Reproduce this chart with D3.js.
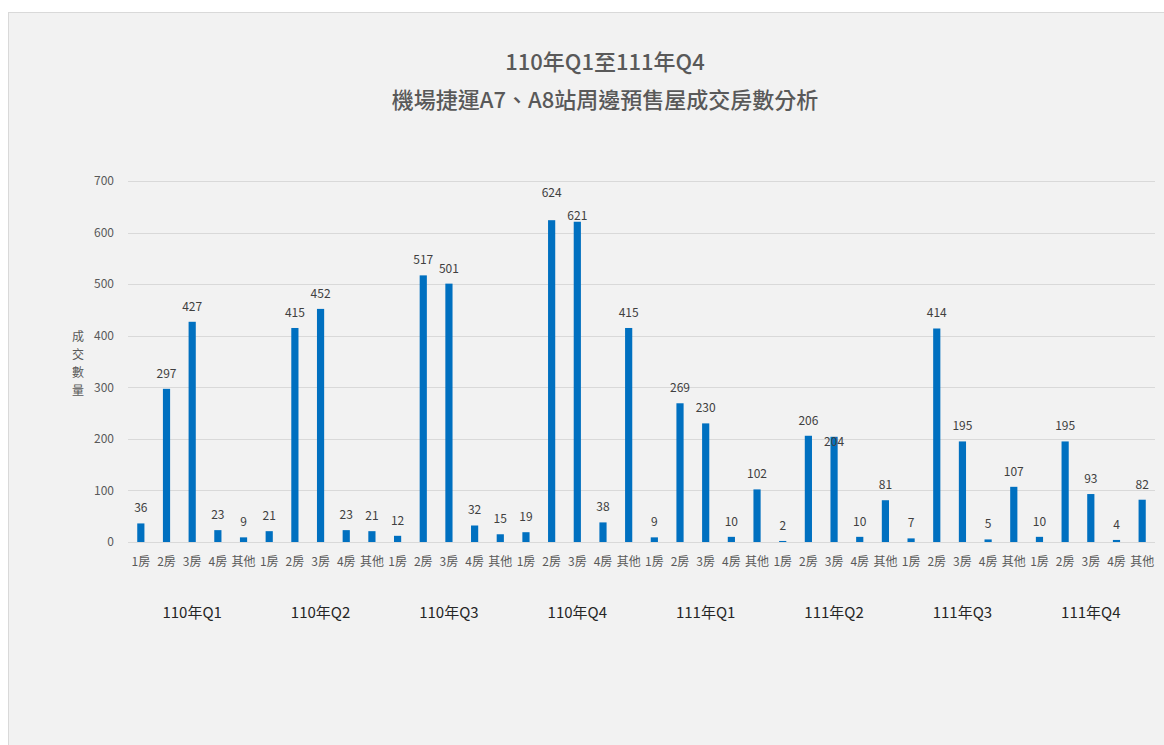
<!DOCTYPE html>
<html>
<head>
<meta charset="utf-8">
<script src="https://cdn.jsdelivr.net/npm/d3@7"></script>
<style>
  html, body { margin: 0; padding: 0; background: #ffffff; }
  svg { display: block; }
  text { font-family: "Noto Sans CJK TC", "Noto Sans", sans-serif; }
</style>
</head>
<body>
<svg id="chart" width="1164" height="745"></svg>
<script>
// Quarters and room types
const quarters = ["110年Q1", "110年Q2", "110年Q3", "110年Q4", "111年Q1", "111年Q2", "111年Q3", "111年Q4"];
const roomTypes = ["1房", "2房", "3房", "4房", "其他"];

// Transaction counts per quarter, in roomTypes order
const q110_1 = [36, 297, 427, 23, 9];
const q110_2 = [21, 415, 452, 23, 21];
const q110_3 = [12, 517, 501, 32, 15];
const q110_4 = [19, 624, 621, 38, 415];
const q111_1 = [9, 269, 230, 10, 102];
const q111_2 = [2, 206, 204, 10, 81];
const q111_3 = [7, 414, 195, 5, 107];
const q111_4 = [10, 195, 93, 4, 82];
const seriesByQuarter = [q110_1, q110_2, q110_3, q110_4, q111_1, q111_2, q111_3, q111_4];

const yTicks = [0, 100, 200, 300, 400, 500, 600, 700];

const titleLines = ["110年Q1至111年Q4", "機場捷運A7、A8站周邊預售屋成交房數分析"];
const yAxisTitle = "成交數量";

// Flatten into one row per bar
const rows = [];
quarters.forEach((q, qi) => {
  roomTypes.forEach((r, ri) => {
    rows.push({ key: q + "-" + r, quarter: q, room: r, value: seriesByQuarter[qi][ri] });
  });
});

const svg = d3.select("#chart");
const W = 1164, H = 745;

// Chart panel
svg.append("rect")
  .attr("x", 8.5).attr("y", 12.5)
  .attr("width", W).attr("height", H)
  .attr("fill", "#f2f2f2")
  .attr("stroke", "#d9d9d9");

const plot = { left: 128, right: 1155, top: 181, bottom: 542 };

const x = d3.scaleBand()
  .domain(rows.map(d => d.key))
  .range([plot.left, plot.right])
  .paddingInner(0.72)
  .paddingOuter(0.36);

const y = d3.scaleLinear()
  .domain([0, 700])
  .range([plot.bottom, plot.top]);

// Gridlines
svg.append("g")
  .selectAll("line")
  .data(yTicks)
  .join("line")
  .attr("x1", plot.left).attr("x2", plot.right)
  .attr("y1", d => Math.round(y(d)) + 0.5)
  .attr("y2", d => Math.round(y(d)) + 0.5)
  .attr("stroke", "#d9d9d9")
  .attr("stroke-width", 1);

// Y axis tick labels
const yAxis = d3.axisLeft(y).tickValues(yTicks).tickSize(0).tickPadding(0);
const yG = svg.append("g")
  .attr("transform", `translate(${plot.left - 14},0)`)
  .call(yAxis);
yG.select(".domain").remove();
yG.selectAll("text")
  .attr("fill", "#595959")
  .style("font-size", "12px");

// Y axis title, stacked vertically
svg.append("g")
  .selectAll("text")
  .data(Array.from(yAxisTitle))
  .join("text")
  .attr("x", 78)
  .attr("y", (d, i) => 341 + i * 18)
  .attr("text-anchor", "middle")
  .attr("fill", "#595959")
  .style("font-size", "12px")
  .text(d => d);

// Bars
svg.append("g")
  .selectAll("rect")
  .data(rows)
  .join("rect")
  .attr("x", d => x(d.key))
  .attr("width", x.bandwidth())
  .attr("y", d => y(d.value))
  .attr("height", d => y(0) - y(d.value))
  .attr("fill", "#0070c0");

// Value labels; a few are nudged vertically where neighbours crowd them
const labelNudge = { "110年Q4-2房": -12, "110年Q4-3房": 9, "111年Q2-3房": 20 };
svg.append("g")
  .selectAll("text")
  .data(rows)
  .join("text")
  .attr("x", d => x(d.key) + x.bandwidth() / 2)
  .attr("y", d => y(d.value) - 11 + (labelNudge[d.key] || 0))
  .attr("text-anchor", "middle")
  .attr("fill", "#404040")
  .style("font-size", "12px")
  .text(d => d.value);

// Room type labels under each bar
const xAxis = d3.axisBottom(x).tickSize(0).tickPadding(0).tickFormat(k => k.split("-")[1]);
const xG = svg.append("g")
  .attr("transform", `translate(0,${plot.bottom + 15})`)
  .call(xAxis);
xG.select(".domain").remove();
xG.selectAll("text")
  .attr("fill", "#595959")
  .style("font-size", "12px");

// Quarter group labels
svg.append("g")
  .selectAll("text")
  .data(quarters)
  .join("text")
  .attr("x", q => {
    const first = x(q + "-" + roomTypes[0]);
    const last = x(q + "-" + roomTypes[roomTypes.length - 1]) + x.bandwidth();
    return (first + last) / 2;
  })
  .attr("y", 618)
  .attr("text-anchor", "middle")
  .attr("fill", "#262626")
  .style("font-size", "15px")
  .text(q => q);

// Title
svg.append("g")
  .selectAll("text")
  .data(titleLines)
  .join("text")
  .attr("x", 605)
  .attr("y", (d, i) => 70 + i * 38)
  .attr("text-anchor", "middle")
  .attr("fill", "#595959")
  .style("font-size", "22px")
  .style("font-weight", "500")
  .text(d => d);
</script>
</body>
</html>
